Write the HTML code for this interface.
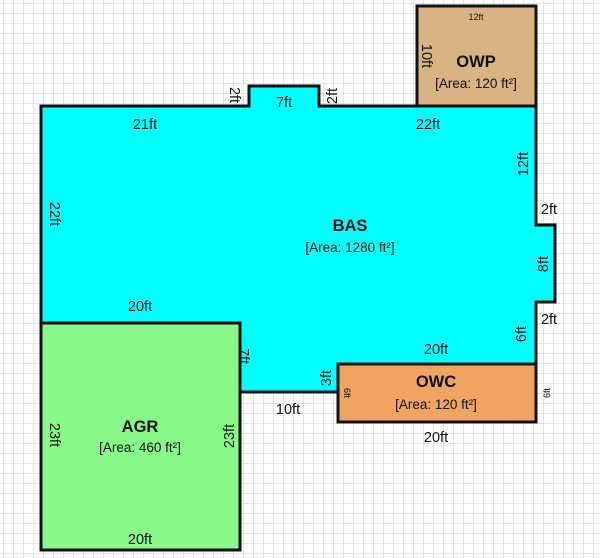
<!DOCTYPE html>
<html><head><style>
html,body{margin:0;padding:0;background:#fff}
svg{display:block}
text{font-family:"Liberation Sans",Arial,sans-serif;fill:#111}
</style></head><body>
<svg width="600" height="558" viewBox="0 0 600 558" xmlns="http://www.w3.org/2000/svg">
<defs>
<pattern id="g" x="3" y="3" width="10" height="10" patternUnits="userSpaceOnUse">
<path d="M10 0H0V10" fill="none" stroke="#c9c9dd" stroke-width="1"/>
</pattern>
</defs>
<rect width="600" height="558" fill="url(#g)"/>
<g stroke="#111" stroke-width="3" stroke-linejoin="miter">
<path d="M41 106H249V86H319V106H536V225H555V302H536V364H338V392H240V323H41Z" fill="#00ffff"/>
<rect x="417" y="6" width="119" height="100" fill="#d8b383"/>
<rect x="338" y="364" width="198" height="58" fill="#f0a462"/>
<rect x="41" y="323" width="199" height="227" fill="#88f888"/>
</g>
<g font-size="14.5" text-anchor="middle">
<text x="145" y="129">21ft</text>
<text x="284" y="107">7ft</text>
<text x="428" y="129">22ft</text>
<text x="140" y="311">20ft</text>
<text x="436" y="354">20ft</text>
<text x="288" y="414">10ft</text>
<text x="436" y="442">20ft</text>
<text x="140" y="544">20ft</text>
<text x="549" y="214">2ft</text>
<text x="549" y="324">2ft</text>
<text transform="translate(50,214) rotate(90)">22ft</text>
<text transform="translate(50,435) rotate(90)">23ft</text>
<text transform="translate(230,95) rotate(90)">2ft</text>
<text transform="translate(239,356) rotate(90)">7ft</text>
<text transform="translate(422,56) rotate(90)">10ft</text>
<text transform="translate(337,96) rotate(-90)">2ft</text>
<text transform="translate(528,164) rotate(-90)">12ft</text>
<text transform="translate(548,264) rotate(-90)">8ft</text>
<text transform="translate(526,334) rotate(-90)">6ft</text>
<text transform="translate(331,378) rotate(-90)">3ft</text>
<text transform="translate(234,436) rotate(-90)">23ft</text>
<text font-size="16.5" font-weight="bold" x="350" y="231">BAS</text>
<text font-size="13.5" x="350" y="252">[Area: 1280 ft²]</text>
<text font-size="16.5" font-weight="bold" x="476" y="67">OWP</text>
<text font-size="13.5" x="476" y="88">[Area: 120 ft²]</text>
<text font-size="16.5" font-weight="bold" x="436" y="387">OWC</text>
<text font-size="13.5" x="436" y="409">[Area: 120 ft²]</text>
<text font-size="16.5" font-weight="bold" x="140" y="432">AGR</text>
<text font-size="13.5" x="140" y="452">[Area: 460 ft²]</text>
<text font-size="9" x="476" y="20">12ft</text>
<text font-size="9" transform="translate(344,393) rotate(90)">6ft</text>
<text font-size="9" transform="translate(550,393) rotate(-90)">6ft</text>
</g>
</svg>
</body></html>
